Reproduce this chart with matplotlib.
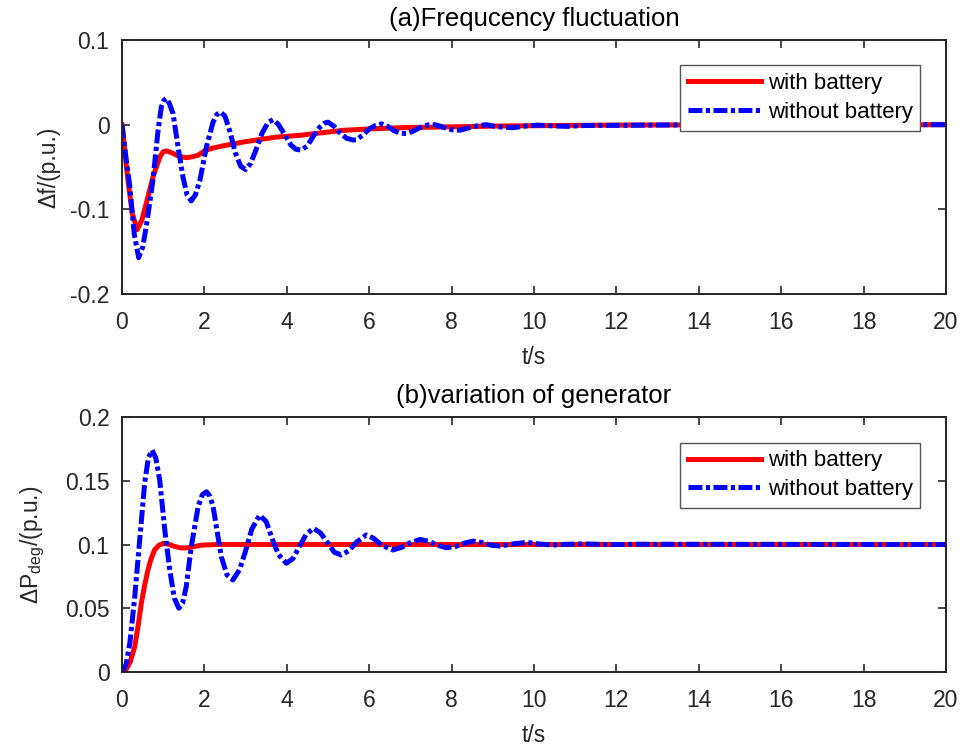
import matplotlib
matplotlib.use("Agg")
import matplotlib.pyplot as plt

plt.rcParams['font.family'] = ['Liberation Sans', 'DejaVu Sans']
plt.rcParams['mathtext.fontset'] = 'custom'
plt.rcParams['mathtext.rm'] = 'Liberation Sans'
plt.rcParams['mathtext.default'] = 'regular'
plt.rcParams['lines.scale_dashes'] = False

# ---- data: (a) frequency fluctuation ----
fa_with_t = [0, 0.146, 0.25, 0.37, 0.48, 0.59, 0.75, 0.92, 1.0, 1.08, 1.2, 1.32, 1.45, 1.56,
             1.7, 1.85, 2.0, 2.17, 2.45, 3.0, 3.75, 4.31, 5.36, 6.0, 6.8, 8.0, 9.17, 10.0,
             11.0, 12.0, 14.0, 16.0, 20.0]
fa_with_v = [0, -0.066, -0.105, -0.124, -0.113, -0.093, -0.062, -0.038, -0.032, -0.031, -0.033,
             -0.036, -0.038, -0.039, -0.038, -0.036, -0.031, -0.028, -0.025, -0.020, -0.0146,
             -0.0126, -0.0067, -0.005, -0.0035, -0.0025, -0.0016, -0.0012, -0.0008, -0.0005,
             -0.0002, -0.0001, 0]

fa_wo_t = [0, 0.1, 0.19, 0.3, 0.405, 0.5, 0.59, 0.68, 0.75, 0.875, 0.955, 1.02, 1.08, 1.15,
           1.24, 1.36, 1.48, 1.58, 1.68, 1.78, 1.89, 2.05, 2.21, 2.3, 2.39, 2.5, 2.62, 2.75,
           2.88, 3.0, 3.12, 3.25, 3.4, 3.55, 3.67, 3.8, 3.95, 4.1, 4.22, 4.35, 4.5, 4.65, 4.8,
           4.92, 5.0, 5.15, 5.3, 5.45, 5.6, 5.69, 5.85, 6.0, 6.15, 6.3, 6.45, 6.6, 6.75, 6.9,
           7.05, 7.25, 7.45, 7.6, 7.8, 8.0, 8.2, 8.4, 8.6, 8.84, 9.05, 9.25, 9.49, 9.8, 10.1,
           10.5, 10.8, 11.2, 11.6, 12.0, 13.0, 14.0, 16.0, 20.0]
fa_wo_v = [0, -0.04, -0.073, -0.13, -0.157, -0.145, -0.12, -0.09, -0.066, -0.007, 0.021, 0.029,
           0.031, 0.025, 0.013, -0.026, -0.062, -0.083, -0.090, -0.083, -0.066, -0.026, 0.003,
           0.012, 0.015, 0.010, -0.008, -0.033, -0.049, -0.053, -0.046, -0.030, -0.010, 0.003,
           0.006, 0.0, -0.012, -0.024, -0.029, -0.030, -0.025, -0.013, -0.003, 0.002, 0.003,
           -0.002, -0.010, -0.016, -0.018, -0.018, -0.012, -0.005, -0.001, 0.001, -0.002, -0.007,
           -0.010, -0.0105, -0.008, -0.003, 0.0, 0.0, -0.003, -0.006, -0.0065, -0.004, -0.0015,
           0.0, -0.002, -0.003, -0.0035, -0.0015, -0.0005, -0.0015, -0.002, -0.001, -0.0008,
           -0.0008, -0.0004, -0.0002, 0, 0]

# ---- data: (b) variation of generator ----
pb_with_t = [0, 0.1, 0.2, 0.31, 0.4, 0.47, 0.55, 0.63, 0.71, 0.79, 0.9, 1.02, 1.15, 1.28, 1.4,
             1.52, 1.7, 1.93, 2.3, 20.0]
pb_with_v = [0, 0.002, 0.008, 0.02, 0.038, 0.054, 0.068, 0.080, 0.089, 0.0957, 0.0995, 0.101,
             0.100, 0.0985, 0.0975, 0.0972, 0.098, 0.0995, 0.100, 0.100]

pb_wo_t = [0, 0.1, 0.19, 0.31, 0.43, 0.55, 0.64, 0.73, 0.82, 0.915, 1.04, 1.16, 1.27, 1.38, 1.47,
           1.56, 1.68, 1.85, 1.95, 2.05, 2.13, 2.21, 2.41, 2.55, 2.69, 2.85, 3.0, 3.15, 3.34,
           3.5, 3.65, 3.8, 3.99, 4.15, 4.3, 4.47, 4.65, 4.82, 5.0, 5.15, 5.32, 5.5, 5.7, 5.93,
           6.1, 6.3, 6.58, 6.8, 7.0, 7.23, 7.45, 7.65, 7.87, 8.1, 8.3, 8.52, 8.75, 8.95, 9.17,
           9.5, 9.82, 10.1, 10.46, 10.8, 11.2, 11.8, 12.5, 20.0]
pb_wo_v = [0, 0.006, 0.0225, 0.059, 0.1035, 0.148, 0.168, 0.174, 0.168, 0.1506, 0.111, 0.080,
           0.058, 0.050, 0.054, 0.067, 0.098, 0.130, 0.139, 0.1414, 0.138, 0.130, 0.0905, 0.076,
           0.0722, 0.080, 0.095, 0.112, 0.123, 0.118, 0.104, 0.092, 0.0853, 0.089, 0.098, 0.108,
           0.1127, 0.109, 0.101, 0.094, 0.0918, 0.095, 0.102, 0.1075, 0.105, 0.0995, 0.0957,
           0.098, 0.1015, 0.104, 0.1025, 0.0995, 0.0975, 0.0985, 0.101, 0.1027, 0.1015, 0.0995,
           0.0988, 0.1005, 0.1017, 0.1005, 0.0996, 0.1002, 0.1005, 0.0999, 0.1002, 0.100]

legend_labels = ['with battery', 'without battery']
xticks = [0, 2, 4, 6, 8, 10, 12, 14, 16, 18, 20]
yticks_a = [-0.2, -0.1, 0, 0.1]
yticks_b = [0, 0.05, 0.1, 0.15, 0.2]
ytick_labels_a = ['-0.2', '-0.1', '0', '0.1']
ytick_labels_b = ['0', '0.05', '0.1', '0.15', '0.2']

fig = plt.figure(figsize=(9.62, 7.51), dpi=100)
ax1 = fig.add_axes([0.1268, 0.6085, 0.8566, 0.3382])
ax2 = fig.add_axes([0.1268, 0.1052, 0.8566, 0.3395])

dash = (0, (10, 2.5, 3, 2.5))
ink = '#262626'

def style(ax):
    ax.set_xlim(0, 20)
    ax.set_xticks(xticks)
    ax.tick_params(direction='in', length=6, width=1.2, top=True, right=True,
                   labelsize=16.5, colors=ink)
    ax.tick_params(axis='x', pad=12)
    ax.tick_params(axis='y', pad=9)
    for s in ax.spines.values():
        s.set_linewidth(1.4)
        s.set_color(ink)
    ax.set_xlabel('t/s', fontsize=16.5, color=ink, labelpad=9)

for ax, (wt, wv, ot, ov), title, ylabel, yt, ytl, ylim, ylp in [
    (ax1, (fa_with_t, fa_with_v, fa_wo_t, fa_wo_v), '(a)Frequcency fluctuation',
     'Δf/(p.u.)', yticks_a, ytick_labels_a, (-0.2, 0.1), 7),
    (ax2, (pb_with_t, pb_with_v, pb_wo_t, pb_wo_v), '(b)variation of generator',
     'ΔP$_{deg}$/(p.u.)', yticks_b, ytick_labels_b, (0, 0.2), 13),
]:
    ax.plot(wt, wv, color='#ff0000', lw=3.6, solid_joinstyle='round', label=legend_labels[0])
    ax.plot(ot, ov, color='#0000ff', lw=3.6, linestyle=dash, label=legend_labels[1])
    ax.set_ylim(*ylim)
    ax.set_yticks(yt)
    ax.set_yticklabels(ytl)
    style(ax)
    ax.set_title(title, fontsize=18.5, color='black', pad=10)
    ax.set_ylabel(ylabel, fontsize=16.5, color=ink, labelpad=ylp)
    leg = ax.legend(loc='upper right', bbox_to_anchor=(0.969, 0.90), borderaxespad=0,
                    fontsize=16, handlelength=3.3, handletextpad=0.3, labelspacing=0.35,
                    fancybox=False, framealpha=1, edgecolor='#555555', borderpad=0.35)
    leg.get_frame().set_linewidth(1.0)

fig.savefig('out.png', dpi=100)
